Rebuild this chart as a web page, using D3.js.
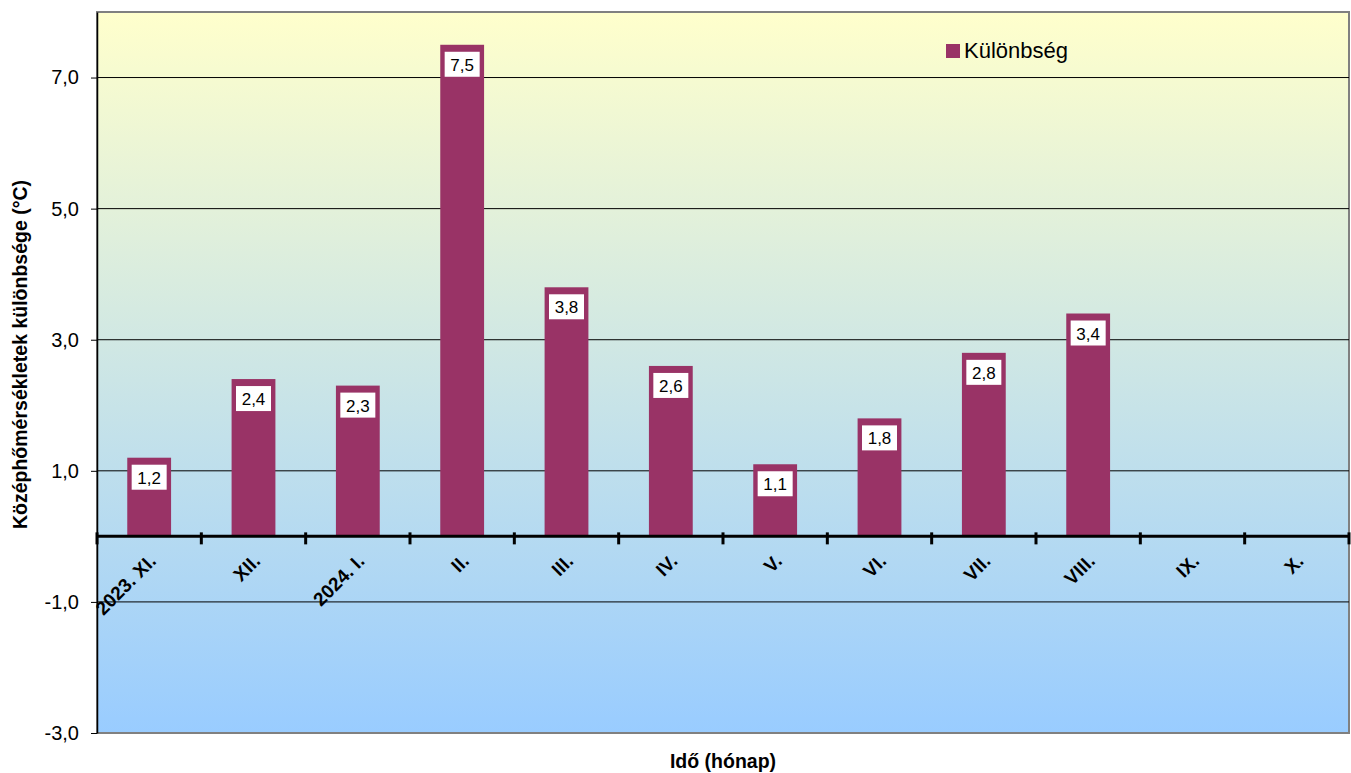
<!DOCTYPE html>
<html lang="en">
<head>
    <meta charset="utf-8">
    <title>Különbség</title>
    <script src="https://d3js.org/d3.v7.min.js"></script>
    <style>
        body { margin: 0; background: #fff; }
        text { font-family: Arial, "Liberation Sans", sans-serif; }
    </style>
</head>
<body>
<script>
    // data
    const months = ["2023. XI.", "XII.", "2024. I.", "II.", "III.", "IV.", "V.", "VI.", "VII.", "VIII.", "IX.", "X."];
    const diffs = [1.2, 2.4, 2.3, 7.5, 3.8, 2.6, 1.1, 1.8, 2.8, 3.4, null, null];
    const yTicks = [-3, -1, 1, 3, 5, 7];

    const width = 1351, height = 773;
    const margin = {top: 12, right: 2, bottom: 40, left: 97};

    const svg = d3.select("body").append("svg")
        .attr("width", width)
        .attr("height", height);

    const x = d3.scaleBand()
        .domain(months)
        .range([margin.left, width - margin.right])
        .paddingInner(0.58)
        .paddingOuter(0.29);

    // band edges (for zero-line ticks)
    const step = (width - margin.right - margin.left) / months.length;

    const y = d3.scaleLinear()
        .domain([-3, 8])
        .range([height - margin.bottom, margin.top]);

    // comma decimal, plain hyphen for minus
    const fmt = v => d3.format(".1f")(v).replace(".", ",").replace("\u2212", "-");

    // background gradient
    const defs = svg.append("defs");
    const grad = defs.append("linearGradient")
        .attr("id", "bg")
        .attr("x1", 0).attr("y1", 0).attr("x2", 0).attr("y2", 1);
    grad.append("stop").attr("offset", "0%").attr("stop-color", "#ffffcc");
    grad.append("stop").attr("offset", "100%").attr("stop-color", "#99ccff");

    svg.append("rect")
        .attr("x", margin.left)
        .attr("y", y(8))
        .attr("width", width - margin.right - margin.left)
        .attr("height", y(-3) - y(8))
        .attr("fill", "url(#bg)")
        .attr("stroke", "#808080")
        .attr("stroke-width", 2);

    // gridlines
    svg.append("g")
        .selectAll("line")
        .data(yTicks.filter(d => d > -3))
        .join("line")
        .attr("x1", margin.left)
        .attr("x2", width - margin.right)
        .attr("y1", d => y(d))
        .attr("y2", d => y(d))
        .attr("stroke", "#000")
        .attr("stroke-width", 1);

    // y axis
    const yAxis = svg.append("g")
        .attr("transform", `translate(${margin.left},0)`)
        .call(d3.axisLeft(y).tickValues(yTicks).tickFormat(fmt).tickSizeInner(6).tickSizeOuter(0).tickPadding(12));
    yAxis.select(".domain").attr("stroke", "#000").attr("stroke-width", 1.5);
    yAxis.selectAll(".tick line").attr("stroke", "#000");
    yAxis.selectAll("text")
        .attr("font-size", 20)
        .attr("fill", "#000")
        .style("font-family", "Arial, 'Liberation Sans', sans-serif");

    // bars
    svg.append("g")
        .selectAll("rect")
        .data(months.map((m, i) => ({m, v: diffs[i]})).filter(d => d.v != null))
        .join("rect")
        .attr("x", d => x(d.m))
        .attr("width", x.bandwidth())
        .attr("y", d => y(d.v))
        .attr("height", d => y(0) - y(d.v))
        .attr("fill", "#993366");

    // zero line with ticks
    const zero = svg.append("g");
    zero.append("line")
        .attr("x1", margin.left)
        .attr("x2", width - margin.right)
        .attr("y1", y(0))
        .attr("y2", y(0))
        .attr("stroke", "#000")
        .attr("stroke-width", 3);
    zero.selectAll(".zt")
        .data(d3.range(months.length + 1))
        .join("line")
        .attr("class", "zt")
        .attr("x1", i => margin.left + i * step)
        .attr("x2", i => margin.left + i * step)
        .attr("y1", y(0) - 4)
        .attr("y2", y(0) + 8)
        .attr("stroke", "#000")
        .attr("stroke-width", 3);

    // category labels
    svg.append("g")
        .selectAll("text")
        .data(months)
        .join("text")
        .attr("transform", d => `translate(${x(d) + x.bandwidth() / 2 + 8},${y(0) + 26}) rotate(-45)`)
        .attr("text-anchor", "end")
        .attr("font-size", 19)
        .attr("font-weight", "bold")
        .attr("fill", "#000")
        .text(d => d);

    // value labels
    const labels = svg.append("g")
        .selectAll("g")
        .data(months.map((m, i) => ({m, v: diffs[i]})).filter(d => d.v != null))
        .join("g")
        .attr("transform", d => `translate(${x(d.m) + x.bandwidth() / 2},${y(d.v) + 20})`);
    labels.append("rect")
        .attr("x", -17.5)
        .attr("y", -13)
        .attr("width", 35)
        .attr("height", 25)
        .attr("fill", "#fff");
    labels.append("text")
        .attr("text-anchor", "middle")
        .attr("y", 6)
        .attr("font-size", 17)
        .attr("fill", "#000")
        .text(d => fmt(d.v));

    // legend
    const legend = svg.append("g").attr("transform", "translate(946,44)");
    legend.append("rect")
        .attr("width", 14)
        .attr("height", 14)
        .attr("fill", "#993366");
    legend.append("text")
        .attr("x", 18)
        .attr("y", 14)
        .attr("font-size", 22)
        .attr("fill", "#000")
        .text("Különbség");

    // axis titles
    svg.append("text")
        .attr("transform", `translate(27,${(y(8) + y(-3)) / 2 - 18}) rotate(-90)`)
        .attr("text-anchor", "middle")
        .attr("font-size", 19.5)
        .attr("font-weight", "bold")
        .attr("fill", "#000")
        .text("Középhőmérsékletek különbsége (°C)");

    svg.append("text")
        .attr("x", 723)
        .attr("y", 768)
        .attr("text-anchor", "middle")
        .attr("font-size", 19.5)
        .attr("font-weight", "bold")
        .attr("fill", "#000")
        .text("Idő (hónap)");
</script>
</body>
</html>
